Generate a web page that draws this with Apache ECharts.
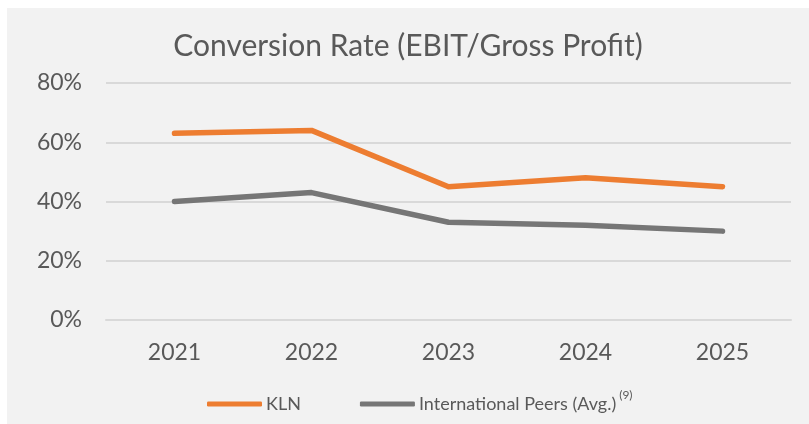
<!DOCTYPE html>
<html>
<head>
<meta charset="utf-8">
<script src="https://cdn.jsdelivr.net/npm/echarts@6/dist/echarts.min.js"></script>
<style>
html, body { margin: 0; padding: 0; background: #fff; }
#chart { position: absolute; left: 7px; top: 8px; width: 802px; height: 416px; background: #f2f2f2; }
</style>
</head>
<body>
<div id="chart"></div>
<script>
const years = ['2021', '2022', '2023', '2024', '2025']
const kln = [63, 64, 45, 48, 45]
const peers = [40, 43, 33, 32, 30]
const yTicks = [0, 20, 40, 60, 80]

let chart = echarts.init(document.getElementById('chart'))
let option = {
    textStyle: { fontFamily: 'Lato' },
    title: {
        text: 'Conversion Rate (EBIT/Gross Profit)',
        left: 'center',
        top: 18,
        textStyle: { fontFamily: 'Lato', fontSize: 30, fontWeight: 'normal', color: '#595959' }
    },
    color: ['#ed7d31', '#767676'],
    legend: {
        bottom: 6,
        left: 195,
        icon: 'roundRect',
        itemWidth: 55,
        itemHeight: 5,
        itemGap: 59,
        textStyle: {
            fontFamily: 'Lato',
            fontSize: 18,
            color: '#595959',
            padding: [0, 0, 0, -1],
            rich: {
                sup: { fontSize: 12, color: '#595959', verticalAlign: 'top', padding: [0, 0, 18, 3] }
            }
        },
        formatter: function(name) {
            return name === 'International Peers (Avg.)' ? name + '{sup|(9)}' : name
        },
        data: ['KLN', 'International Peers (Avg.)']
    },
    grid: { left: 99, right: 18, top: 75, bottom: 104 },
    xAxis: {
        type: 'category',
        data: years,
        boundaryGap: true,
        axisLine: { show: true, lineStyle: { color: '#d9d9d9', width: 2 } },
        axisTick: { show: false },
        axisLabel: { fontSize: 23, color: '#595959', margin: 21 }
    },
    yAxis: {
        type: 'value',
        min: yTicks[0],
        max: yTicks[yTicks.length - 1],
        interval: 20,
        axisLine: { show: false },
        axisTick: { show: false },
        axisLabel: { fontSize: 23, color: '#595959', margin: 24, formatter: '{value}%' },
        splitLine: { lineStyle: { color: '#d9d9d9', width: 2 } }
    },
    series: [
        {
            name: 'KLN',
            type: 'line',
            data: kln,
            symbol: 'none',
            lineStyle: { width: 5.5, cap: 'round', join: 'round' }
        },
        {
            name: 'International Peers (Avg.)',
            type: 'line',
            data: peers,
            symbol: 'none',
            lineStyle: { width: 5.5, cap: 'round', join: 'round' }
        }
    ]
}
chart.setOption(option)
</script>
</body>
</html>
